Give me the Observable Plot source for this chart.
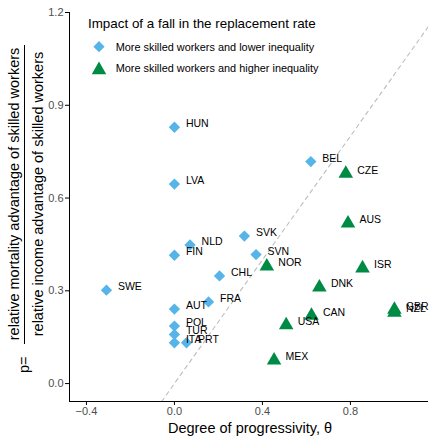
<!DOCTYPE html>
<html><head><meta charset="utf-8">
<script src="https://cdn.jsdelivr.net/npm/d3@7"></script>
<script src="https://cdn.jsdelivr.net/npm/@observablehq/plot@0.6"></script>
<style>
body{margin:0;background:#fff;}
#chart svg{font-family:"Liberation Sans",Arial,sans-serif;display:block;}
</style>
</head><body><div id="chart"></div>
<script>
// ---- data ----
const countries = ["HUN","LVA","BEL","NLD","FIN","SWE","SVK","SVN","CHL","FRA","AUT","POL","TUR","ITA","PRT",
                   "CZE","AUS","NOR","ISR","DNK","CAN","USA","GBR","NZL","MEX"];
const theta  = [0.0, 0.0, 0.62, 0.071, 0.0, -0.309, 0.318, 0.371, 0.205, 0.155, 0.0, 0.0, 0.0, 0.0, 0.055,
                0.779, 0.789, 0.42, 0.855, 0.659, 0.623, 0.508, 1.0, 1.0, 0.453];
const pValue = [0.829, 0.645, 0.718, 0.448, 0.415, 0.302, 0.477, 0.417, 0.348, 0.264, 0.241, 0.186, 0.159, 0.132, 0.132,
                0.679, 0.518, 0.379, 0.373, 0.311, 0.220, 0.189, 0.239, 0.230, 0.075];
const group  = [0,0,0,0,0,0,0,0,0,0,0,0,0,0,0, 1,1,1,1,1,1,1,1,1,1];
const groupLabels  = ["More skilled workers and lower inequality", "More skilled workers and higher inequality"];
const groupColors  = ["#56B4E9", "#008B45"];
const xTicks = [-0.4, 0.0, 0.4, 0.8];
const yTicks = [0.0, 0.3, 0.6, 0.9, 1.2];
const xDomain = [-0.477, 1.155];
const yDomain = [-0.058, 1.2];
const legendTitle = "Impact of a fall in the replacement rate";
const xTitle = "Degree of progressivity, θ";
const yPrefix = "p=";
const yNumerator = "relative mortality advantage of skilled workers";
const yDenominator = "relative income advantage of skilled workers";

const data = countries.map((c, i) => ({country: c, theta: theta[i], p: pValue[i], group: group[i]}));
const diagonal = [yDomain[0], xDomain[1]]; // reference line p = theta
const fmt = d3.format(".1f");

const chart = Plot.plot({
  width: 430, height: 440,
  marginLeft: 69, marginRight: 2, marginTop: 12, marginBottom: 39,
  x: {domain: xDomain},
  y: {domain: yDomain},
  style: {fontFamily: '"Liberation Sans",Arial,sans-serif', fontSize: "11px", background: "white", color: "black"},
  marks: [
    Plot.line(diagonal, {x: d => d, y: d => d, stroke: "#bdbdbd", strokeWidth: 1.1, strokeDasharray: "4,4", clip: true}),
    Plot.ruleX([xDomain[0]], {stroke: "black", strokeWidth: 1}),
    Plot.ruleY([yDomain[0]], {stroke: "black", strokeWidth: 1}),
    Plot.axisX({ticks: xTicks, tickFormat: fmt, tickSize: 4, tickPadding: 2, label: null}),
    Plot.axisY({ticks: yTicks, tickFormat: fmt, tickSize: 4, tickPadding: 2, label: null}),
    Plot.dot(data.filter(d => d.group === 0), {x: "theta", y: "p", symbol: "diamond2", r: 5.1, fill: groupColors[0], stroke: "none"}),
    Plot.dot(data.filter(d => d.group === 1), {x: "theta", y: "p", symbol: "triangle", r: 5.4, fill: groupColors[1], stroke: "none"}),
    Plot.text(data, {x: "theta", y: "p", text: "country", textAnchor: "start", lineAnchor: "bottom", dx: 11.5, fontSize: 10.5, fill: "black"})
  ]
});
document.getElementById("chart").appendChild(chart);

const svg = d3.select(chart);
svg.selectAll('[aria-label="x-axis tick label"] text, [aria-label="y-axis tick label"] text').attr("fill", "#4d4d4d");
svg.selectAll('[aria-label="x-axis tick label"], [aria-label="y-axis tick label"]').attr("fill", "#4d4d4d");

// x title
svg.append("text").attr("x", 250).attr("y", 433).attr("text-anchor", "middle")
  .attr("font-size", 14.5).attr("fill", "black").text(xTitle);

// y title as fraction
const yl = svg.append("g").attr("fill", "black").attr("font-size", 14.5);
yl.append("text").attr("transform", "translate(18.5,194) rotate(-90)").attr("text-anchor", "middle").text(yNumerator);
yl.append("text").attr("transform", "translate(43,194) rotate(-90)").attr("text-anchor", "middle").text(yDenominator);
yl.append("line").attr("x1", 24.5).attr("x2", 24.5).attr("y1", 45).attr("y2", 344).attr("stroke", "black").attr("stroke-width", 1);
yl.append("text").attr("transform", "translate(28.5,373) rotate(-90)").attr("text-anchor", "start").text(yPrefix);

// legend
const lg = svg.append("g").attr("text-anchor", "start");
lg.append("text").attr("x", 88).attr("y", 28).attr("text-anchor", "start").attr("font-size", 13.4).attr("fill", "black").text(legendTitle);
const legendRows = [
  {sym: d3.symbolDiamond2, size: 80, cy: 46.7, ty: 50.6},
  {sym: d3.symbolTriangle, size: 92, cy: 70, ty: 72.2}
];
legendRows.forEach((row, i) => {
  lg.append("path").attr("d", d3.symbol(row.sym, row.size)()).attr("transform", `translate(99,${row.cy})`).attr("fill", groupColors[i]);
  lg.append("text").attr("x", 115.7).attr("y", row.ty).attr("text-anchor", "start").attr("font-size", 10.9).attr("fill", "black").text(groupLabels[i]);
});
</script>
</body></html>
